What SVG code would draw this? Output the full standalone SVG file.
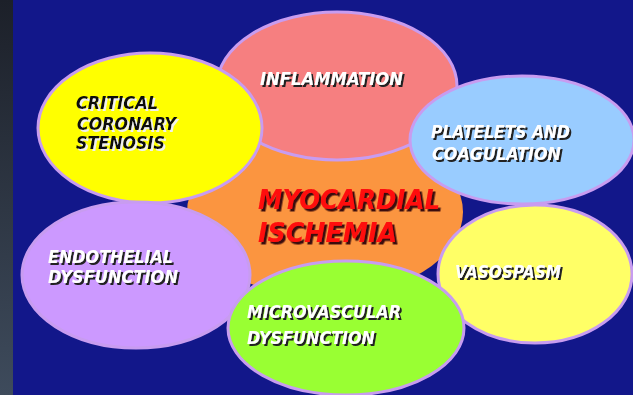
<svg xmlns="http://www.w3.org/2000/svg" width="633" height="395" viewBox="0 0 633 395">
<defs>
<linearGradient id="strip" x1="0" y1="0" x2="0" y2="1">
<stop offset="0" stop-color="#1c2029"/>
<stop offset="1" stop-color="#3e4b5c"/>
</linearGradient>
<filter id="sd" x="-10%" y="-30%" width="120%" height="160%">
<feDropShadow dx="2" dy="2" stdDeviation="0.4" flood-color="#222222" flood-opacity="1"/>
</filter>
<filter id="sl" x="-10%" y="-30%" width="120%" height="160%">
<feDropShadow dx="2" dy="2" stdDeviation="0.4" flood-color="#f0f0f0" flood-opacity="1"/>
</filter>
<filter id="sr" x="-10%" y="-30%" width="120%" height="160%">
<feDropShadow dx="2.5" dy="2.5" stdDeviation="0.5" flood-color="#3a0c0c" flood-opacity="1"/>
</filter>
<style>
.b{stroke:#c89cf0;stroke-width:3}
.t{font-family:"DejaVu Sans","Liberation Sans",sans-serif;font-weight:bold;font-style:italic;font-size:17px}
.w{fill:#ffffff;filter:url(#sd)}
.k{fill:#111111;filter:url(#sl)}
.r{fill:#ff0a0a;filter:url(#sr);font-size:26px}
</style>
</defs>
<rect x="0" y="0" width="633" height="395" fill="#12178a"/>
<rect x="0" y="0" width="13" height="395" fill="url(#strip)"/>

<g id="center">
<ellipse cx="325" cy="212" rx="138" ry="85" fill="#fb9540"/>
</g>
<g id="inflammation">
<ellipse class="b" cx="337" cy="86" rx="120" ry="74" fill="#f67f80"/>
<text class="t w" x="260" y="85" textLength="143" lengthAdjust="spacingAndGlyphs">INFLAMMATION</text>
</g>
<g id="critical">
<ellipse class="b" cx="150" cy="128" rx="112" ry="75" fill="#ffff00"/>
<text class="t k" x="76" y="109" textLength="82" lengthAdjust="spacingAndGlyphs">CRITICAL</text>
<text class="t k" x="77" y="130" textLength="99" lengthAdjust="spacingAndGlyphs">CORONARY</text>
<text class="t k" x="76" y="149" textLength="89" lengthAdjust="spacingAndGlyphs">STENOSIS</text>
</g>
<g id="platelets">
<ellipse class="b" cx="522" cy="140" rx="112" ry="64" fill="#99ccff"/>
<text class="t w" x="431" y="138" textLength="139" lengthAdjust="spacingAndGlyphs">PLATELETS AND</text>
<text class="t w" x="432" y="160" textLength="129" lengthAdjust="spacingAndGlyphs">COAGULATION</text>
</g>
<g id="endothelial">
<ellipse class="b" cx="136" cy="275" rx="114" ry="73" fill="#cc99ff"/>
<text class="t w" x="48" y="263" textLength="125" lengthAdjust="spacingAndGlyphs">ENDOTHELIAL</text>
<text class="t w" x="48" y="283" textLength="130" lengthAdjust="spacingAndGlyphs">DYSFUNCTION</text>
</g>
<g id="vasospasm">
<ellipse class="b" cx="535" cy="274" rx="97" ry="69" fill="#ffff66"/>
<text class="t w" x="455" y="278" textLength="106" lengthAdjust="spacingAndGlyphs">VASOSPASM</text>
</g>
<g id="microvascular">
<ellipse class="b" cx="346" cy="328" rx="118" ry="67" fill="#99ff33"/>
<text class="t w" x="247" y="318" textLength="154" lengthAdjust="spacingAndGlyphs">MICROVASCULAR</text>
<text class="t w" x="247" y="344" textLength="128" lengthAdjust="spacingAndGlyphs">DYSFUNCTION</text>
</g>
<g id="myocardial">
<text class="t r" x="258" y="209" textLength="182" lengthAdjust="spacingAndGlyphs">MYOCARDIAL</text>
<text class="t r" x="258" y="242" textLength="139" lengthAdjust="spacingAndGlyphs">ISCHEMIA</text>
</g>
<g id="connectors"/>
</svg>
